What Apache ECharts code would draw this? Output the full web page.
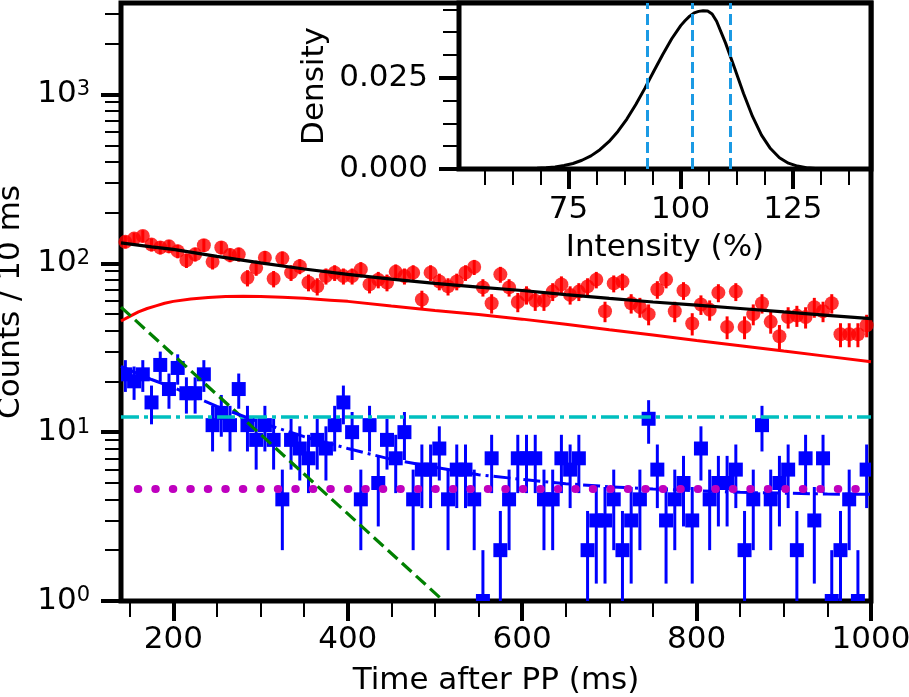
<!DOCTYPE html>
<html>
<head>
<meta charset="utf-8">
<title>Counts after PP</title>
<script src="https://cdn.jsdelivr.net/npm/echarts@6/dist/echarts.min.js"></script>
<style>
  html, body { margin: 0; padding: 0; background: #fff; }
  #main { width: 909px; height: 697px; }
</style>
</head>
<body>
<div id="main"></div>
<script>
// bin centres, ms
var times = [145,155,165,175,185,195,205,215,225,235,245,255,265,275,285,295,305,315,325,335,
  345,355,365,375,385,395,405,415,425,435,445,455,465,475,485,495,505,515,525,535,
  545,555,565,575,585,595,605,615,625,635,645,655,665,675,685,695,705,715,725,735,
  745,755,765,775,785,795,805,815,825,835,845,855,865,875,885,895,905,915,925,935,
  945,955,965,975,985,995];
// red circles (counts / 10 ms)
var redCounts = [134,140,145,129,124,126,118,104,113,128,102,124,112,113,82,94,108,81,107,88,
  96,77,73,84,88,84,84,92,75,80,77,89,84,88,61,88,78,73,78,88,
  95,72,58,86,72,59,65,60,60,68,75,65,68,73,80,52,76,78,58,55,
  50,70,80,52,69,44,57,53,67,42,68,42,50,58,45,37,48,49,48,55,
  52,58,38,38,38,43];
// blue squares
var blueCounts = [22,20,22,15,25,18,24,17,17,22,11,13,11,18,11,9,11,9,4,9,
  8,7,9,8,11,15,10,4,11,5,9,7,10,4,6,6,8,4,6,6,
  4,1,7,2,4,7,7,7,4,4,7,6,7,2,3,3,4,2,3,4,
  12,6,3,4,5,3,8,4,5,5,6,2,4,11,4,5,6,2,7,3,
  7,1,2,4,1,6];

// fit curves
var totalT = [140,175,200,250,300,350,400,450,500,550,600,650,700,750,800,850,900,950,1000];
var totalV = [132,125,121,110,100.5,92.5,86,80.5,76,72.3,69,65.3,62,59,56.5,54,51.5,49.2,47];
var daughterT = [140,150,160,170,180,190,200,220,240,260,280,300,325,350,380,400,450,500,550,600,650,700,750,800,850,900,950,1000];
var daughterV = [45.5,48.5,51.5,54,56,58,59.5,61.5,62.8,63.5,63.8,63.6,63,62,60.5,59.5,55.8,52.6,49.7,46.7,43.5,40.4,37.6,34.9,32.5,30.2,28.1,26.1];
var parentT = [140,325,510];
var parentV = [55,7.4,1];
var bgCyanT = [140,1000];
var bgCyanV = [12.3,12.3];
var bgMagT = [140,1000];
var bgMagV = [4.6,4.6];
var blueFitT = [140,175,200,250,300,350,400,450,500,550,600,650,700,750,800,850,900,950,1000];
var blueFitV = [24.5,20.5,18.4,14.2,11.4,9.4,8.0,6.9,6.2,5.6,5.25,4.95,4.75,4.6,4.5,4.4,4.35,4.3,4.28];

// inset: intensity distribution
var intensity = [64,66,68,70,72,74,76,78,80,82,84,86,88,90,92,94,96,98,100,101,102,103,104,105,106,107,108,110,112,114,116,118,120,122,124,126,128,130,132];
var density = [0.00005,0.0001,0.0002,0.00033,0.00056,0.00094,0.0015,0.0024,0.0036,0.0053,0.0075,0.0103,0.0137,0.0177,0.0221,0.0268,0.0314,0.0357,0.0393,0.0407,0.0419,0.0428,0.0432,0.0434,0.0433,0.0425,0.0405,0.0345,0.0277,0.0207,0.0144,0.0093,0.0056,0.0031,0.0016,0.0008,0.00035,0.00014,0.00005];
var markers = [92.45, 102.5, 111.0];

// tick positions
var xMajor = [200,400,600,800,1000];
var xMinor = [150,250,300,350,450,500,550,650,700,750,850,900,950];
var yMajor = [1,10,100,1000];
var yMinor = [2,3,4,5,6,7,8,9,20,30,40,50,60,70,80,90,200,300,400,500,600,700,800,900,2000,3000];
var ixMajor = [75,100,125];
var ixMinor = [56.25,62.5,68.75,81.25,87.5,93.75,106.25,112.5,118.75,131.25,137.5];
var iyMajor = [0,0.025];
var iyMinor = [0.00625,0.0125,0.01875,0.03125,0.0375,0.04375];

var FONT = 'DejaVu Sans';
var FS = 31;

function pairs(xs, ys) {
  return xs.map(function (x, i) { return [x, ys[i]]; });
}
function errRows(xs, ys) {
  return xs.map(function (x, i) {
    var e = Math.sqrt(ys[i]);
    return [x, Math.max(ys[i] - e, 0.05), ys[i] + e];
  });
}
function errorBar(color) {
  return function (params, api) {
    var cs = params.coordSys;
    var hi = api.coord([api.value(0), api.value(2)]);
    var lo = api.coord([api.value(0), api.value(1)]);
    var y1 = Math.min(lo[1], cs.y + cs.height);
    var y2 = Math.max(hi[1], cs.y);
    return {
      type: 'line',
      shape: { x1: hi[0], y1: y1, x2: hi[0], y2: y2 },
      style: { stroke: color, lineWidth: 3 }
    };
  };
}
function fitLine(xs, ys, color, width, type, extra) {
  var s = {
    type: 'line', xAxisIndex: 0, yAxisIndex: 0, z: 4,
    data: pairs(xs, ys), showSymbol: false, symbol: 'none', silent: true,
    lineStyle: { color: color, width: width, type: type }
  };
  if (extra) Object.assign(s.lineStyle, extra);
  return s;
}

function tickAxis(gridIndex, kind, min, max, values, len, width, more) {
  var a = {
    gridIndex: gridIndex, type: kind, min: min, max: max,
    axisLine: { show: false },
    splitLine: { show: false },
    axisTick: { show: true, inside: false, length: len, customValues: values,
      lineStyle: { color: '#000', width: width } },
    axisLabel: { show: false }
  };
  if (more) Object.assign(a, more);
  return a;
}

var labelStyle = { fontSize: FS, fontFamily: FONT, color: '#000' };

var chart = echarts.init(document.getElementById('main'));

var option = {
  animation: false,
  backgroundColor: '#fff',
  grid: [
    { left: 121, right: 38, top: 3, bottom: 96, outerBoundsMode: 'none', containLabel: false,
      show: true, borderColor: '#000', borderWidth: 5, backgroundColor: 'transparent' },
    { left: 459, right: 38, top: 3, height: 166, outerBoundsMode: 'none', containLabel: false,
      show: true, borderColor: '#000', borderWidth: 5, backgroundColor: '#fff' }
  ],
  xAxis: [
    tickAxis(0, 'value', 140, 1000, xMajor, 20, 4, {
      position: 'bottom',
      axisLabel: Object.assign({ show: true, customValues: xMajor, margin: 23,
        formatter: function (v) { return String(v); } }, labelStyle),
      name: 'Time after PP (ms)', nameLocation: 'middle', nameGap: 64, nameTextStyle: labelStyle
    }),
    tickAxis(0, 'value', 140, 1000, xMinor, 16, 2, { position: 'bottom' }),
    tickAxis(1, 'value', 50.6, 142.4, ixMajor, 20, 4, {
      position: 'bottom',
      axisLabel: Object.assign({ show: true, customValues: ixMajor, margin: 25,
        formatter: function (v) { return String(v); } }, labelStyle),
      name: 'Intensity (%)', nameLocation: 'middle', nameGap: 63, nameTextStyle: labelStyle
    }),
    tickAxis(1, 'value', 50.6, 142.4, ixMinor, 16, 2, { position: 'bottom' })
  ],
  yAxis: [
    tickAxis(0, 'log', 1, 3480, yMajor, 20, 4, {
      position: 'left', logBase: 10,
      axisLabel: {
        show: true, customValues: yMajor, margin: 31,
        formatter: function (v) { return '{b|10}{s|' + Math.round(Math.log10(v)) + '}'; },
        rich: {
          b: { fontSize: FS, fontFamily: FONT, color: '#000', lineHeight: 31 },
          s: { fontSize: 21, fontFamily: FONT, color: '#000', lineHeight: 21, verticalAlign: 'top' }
        }
      },
      name: 'Counts / 10 ms', nameLocation: 'middle', nameGap: 88, nameRotate: 90, nameTextStyle: labelStyle
    }),
    tickAxis(0, 'log', 1, 3480, yMinor, 16, 2, { position: 'left', logBase: 10 }),
    tickAxis(1, 'value', 0, 0.0455, iyMajor, 20, 4, {
      position: 'left',
      axisLabel: Object.assign({ show: true, customValues: iyMajor, margin: 31,
        formatter: function (v) { return v.toFixed(3); } }, labelStyle),
      name: 'Density', nameLocation: 'middle', nameGap: 129, nameRotate: 90, nameTextStyle: labelStyle
    }),
    tickAxis(1, 'value', 0, 0.0455, iyMinor, 16, 2, { position: 'left' })
  ],
  series: [
    {
      type: 'custom', xAxisIndex: 0, yAxisIndex: 0, z: 2,
      data: errRows(times, redCounts), encode: { x: 0, y: [1, 2] },
      renderItem: errorBar('#ff0000')
    },
    {
      type: 'custom', xAxisIndex: 0, yAxisIndex: 0, z: 2,
      data: errRows(times, blueCounts), encode: { x: 0, y: [1, 2] },
      renderItem: errorBar('#0000ff')
    },
    {
      type: 'scatter', xAxisIndex: 0, yAxisIndex: 0, z: 3,
      data: pairs(times, redCounts), symbol: 'circle', symbolSize: 14,
      itemStyle: { color: '#ff0000' }
    },
    {
      type: 'custom', xAxisIndex: 0, yAxisIndex: 0, z: 3,
      data: pairs(times, blueCounts), encode: { x: 0, y: 1 },
      renderItem: function (params, api) {
        var cs = params.coordSys;
        var p = api.coord([api.value(0), api.value(1)]);
        var s = 14;
        var r = echarts.graphic.clipRectByRect(
          { x: p[0] - s / 2, y: p[1] - s / 2, width: s, height: s },
          { x: cs.x, y: cs.y, width: cs.width, height: cs.height });
        return r ? { type: 'rect', shape: r, style: { fill: '#0000ff' } } : null;
      }
    },
    fitLine(totalT, totalV, '#000000', 3.2, 'solid'),
    fitLine(daughterT, daughterV, '#ff0000', 3, 'solid'),
    fitLine(parentT, parentV, '#008000', 3.2, [13, 6]),
    fitLine(bgCyanT, bgCyanV, '#00bfbf', 3.4, [18, 5, 4, 5]),
    fitLine(blueFitT, blueFitV, '#0000ff', 3, [17, 5, 3, 5]),
    fitLine(bgMagT, bgMagV, '#bf00bf', 8, [0.5, 17], { cap: 'round', dashOffset: 0.7 }),
    {
      type: 'line', xAxisIndex: 2, yAxisIndex: 2, z: 4,
      data: pairs(intensity, density), showSymbol: false, symbol: 'none', silent: true,
      lineStyle: { color: '#000', width: 3 },
      markLine: {
        silent: true, symbol: 'none', label: { show: false },
        lineStyle: { color: '#1b9ae4', width: 3, type: [11, 5] },
        data: markers.map(function (m) { return { xAxis: m }; })
      }
    }
  ]
};

chart.setOption(option);
</script>
</body>
</html>
